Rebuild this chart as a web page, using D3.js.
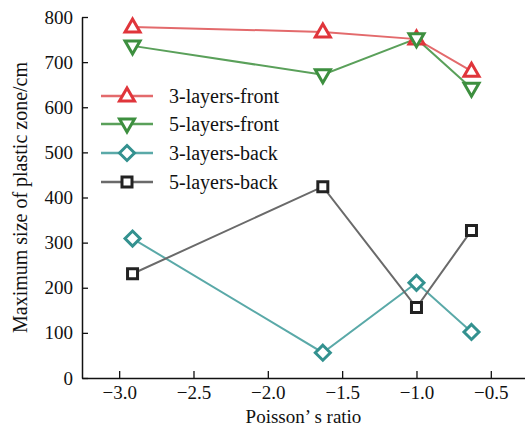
<html>
<head>
<meta charset="utf-8">
<script src="https://d3js.org/d3.v7.min.js"></script>
<style>
  body { margin: 0; background: #fff; }
  svg text { font-family: "Liberation Serif", "Times New Roman", "DejaVu Serif", serif; fill: #111; }
</style>
</head>
<body>
<script>
// data
var poisson = [-2.91, -1.63, -1.0, -0.63];
var front3 = [778, 767, 751, 680];
var front5 = [736, 672, 752, 642];
var back3 = [309, 56, 211, 102];
var back5 = [231, 424, 156, 327];
var seriesNames = ["3-layers-front", "5-layers-front", "3-layers-back", "5-layers-back"];
var xTicks = [-3.0, -2.5, -2.0, -1.5, -1.0, -0.5];
var yTicks = [0, 100, 200, 300, 400, 500, 600, 700, 800];

var w = 525, h = 428;
var mLeft = 82, mRight = 525, mTop = 17, mBottom = 378;
var serif = "'Liberation Serif', 'Times New Roman', 'DejaVu Serif', serif";

var svg = d3.select("body").append("svg").attr("width", w).attr("height", h);

var xScale = d3.scaleLinear().domain([-3.25, -0.27]).range([mLeft, mRight]);
var yScale = d3.scaleLinear().domain([0, 800]).range([mBottom, mTop]);

// axes, ticks pointing inside
var xAxis = d3.axisBottom(xScale).tickValues(xTicks).tickSizeInner(-7).tickSizeOuter(0).tickPadding(8)
  .tickFormat(function(d){ return d3.format(".1f")(d).replace("-", "\u2212"); });
var yAxis = d3.axisLeft(yScale).tickValues(yTicks).tickSizeInner(-6).tickSizeOuter(0).tickPadding(9);

var gx = svg.append("g").attr("transform", "translate(0," + mBottom + ")").call(xAxis);
var gy = svg.append("g").attr("transform", "translate(" + mLeft + ",0)").call(yAxis);
[gx, gy].forEach(function(g){
  g.attr("font-family", serif).attr("font-size", 20);
  g.select(".domain").attr("stroke", "#111").attr("stroke-width", 1.5);
  g.selectAll(".tick line").attr("stroke", "#111").attr("stroke-width", 1.3);
  g.selectAll(".tick text").style("font-family", serif).style("font-size", "19px").attr("fill", "#111");
});

svg.append("text").attr("x", (mLeft + mRight) / 2).attr("y", 423).attr("text-anchor", "middle")
  .style("font-family", serif).style("font-size", "19px").text("Poisson\u2019 s ratio");
svg.append("text").attr("transform", "translate(27," + ((mTop + mBottom) / 2) + ") rotate(-90)")
  .attr("text-anchor", "middle").style("font-family", serif).style("font-size", "20px")
  .text("Maximum size of plastic zone/cm");

var series = [
  { name: seriesNames[0], values: front3, line: "#e36a6c", mark: "#e0353b", shape: "up" },
  { name: seriesNames[1], values: front5, line: "#5aa05a", mark: "#3d8f3f", shape: "down" },
  { name: seriesNames[2], values: back3, line: "#5aa9a8", mark: "#33918f", shape: "diamond" },
  { name: seriesNames[3], values: back5, line: "#6a6a6a", mark: "#222222", shape: "square" }
];

function markerPath(shape) {
  if (shape === "up") return "M0,-8L7.5,5L-7.5,5Z";
  if (shape === "down") return "M0,8L7.5,-5L-7.5,-5Z";
  if (shape === "diamond") return "M0,-7.5L7.5,0L0,7.5L-7.5,0Z";
  return "M-5,-5L5,-5L5,5L-5,5Z";
}

var line = d3.line().x(function(d){ return xScale(d[0]); }).y(function(d){ return yScale(d[1]); });

series.forEach(function(s){
  var pts = poisson.map(function(p, i){ return [p, s.values[i]]; });
  svg.append("path").attr("d", line(pts)).attr("fill", "none").attr("stroke", s.line).attr("stroke-width", 2);
});
series.forEach(function(s){
  poisson.forEach(function(p, i){
    svg.append("path").attr("d", markerPath(s.shape))
      .attr("transform", "translate(" + xScale(p) + "," + yScale(s.values[i]) + ")")
      .attr("fill", "#fff").attr("stroke", s.mark).attr("stroke-width", 3);
  });
});

// legend
var legendY = [96, 124, 153, 182];
series.forEach(function(s, i){
  var g = svg.append("g").attr("transform", "translate(0," + legendY[i] + ")");
  g.append("line").attr("x1", 101).attr("x2", 153).attr("stroke", s.line).attr("stroke-width", 2.5);
  g.append("path").attr("d", markerPath(s.shape)).attr("transform", "translate(127,0)")
    .attr("fill", "#fff").attr("stroke", s.mark).attr("stroke-width", 3);
  g.append("text").attr("x", 169).attr("y", 7).style("font-family", serif).style("font-size", "20px").text(s.name);
});
</script>
</body>
</html>
